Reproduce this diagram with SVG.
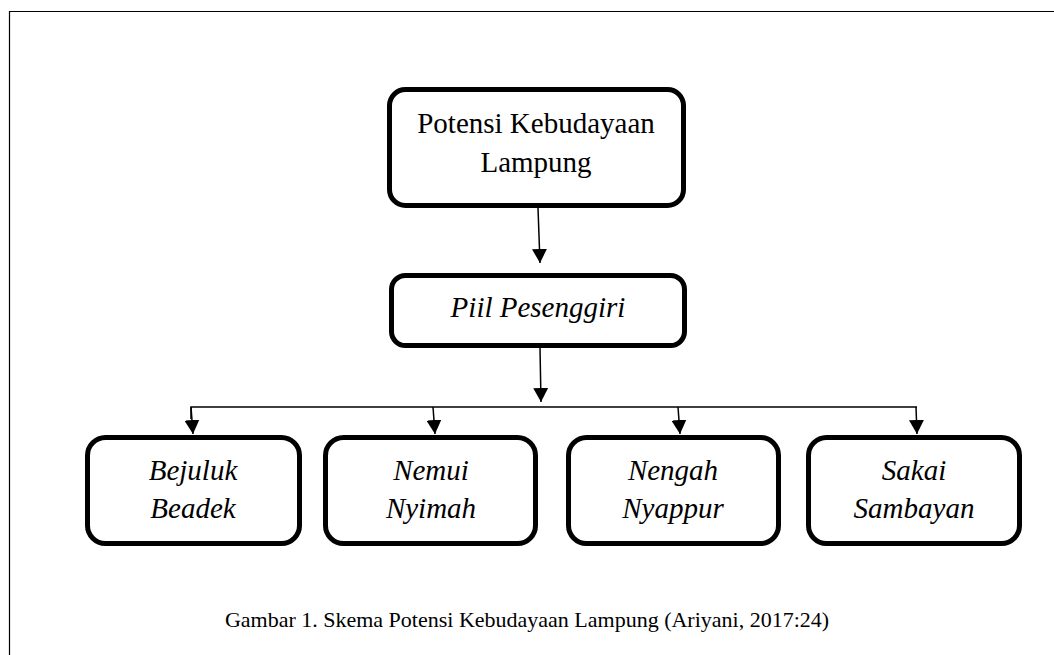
<svg xmlns="http://www.w3.org/2000/svg" width="1054" height="655" viewBox="0 0 1054 655">
  <style>
    .box { fill: #fff; stroke: #000; stroke-width: 5; }
    .lbl { font-family: "Liberation Serif", "Times New Roman", serif; font-size: 29px; fill: #000; text-anchor: middle; }
    .it { font-style: italic; }
    .wire { fill: none; stroke: #000; stroke-width: 1.5; }
    .cap { font-family: "Liberation Serif", "Times New Roman", serif; font-size: 22px; fill: #000; text-anchor: middle; }
  </style>
  <defs>
    <marker id="arrowBig" viewBox="0 0 10 10" refX="10" refY="5" markerWidth="14" markerHeight="15" markerUnits="userSpaceOnUse" orient="auto" preserveAspectRatio="none">
      <path d="M0,0 L10,5 L0,10 Z" fill="#000"/>
    </marker>
  </defs>

  <rect width="1054" height="655" fill="#fff"/>
  <!-- page frame (open on right and bottom) -->
  <path d="M9.5,655 V11.5 H1054" fill="none" stroke="#000" stroke-width="1.2"/>

  <g id="connectors">
    <line class="wire" x1="538" y1="208" x2="540" y2="263" marker-end="url(#arrowBig)"/>
    <line class="wire" x1="540" y1="348" x2="541" y2="402" marker-end="url(#arrowBig)"/>
    <path class="wire" d="M191,419 V407 H917"/>
    <line class="wire" x1="191" y1="407" x2="193" y2="434" marker-end="url(#arrowBig)"/>
    <line class="wire" x1="433" y1="407" x2="435" y2="434" marker-end="url(#arrowBig)"/>
    <line class="wire" x1="678" y1="407" x2="680" y2="434" marker-end="url(#arrowBig)"/>
    <line class="wire" x1="916" y1="407" x2="917" y2="434" marker-end="url(#arrowBig)"/>
  </g>

  <g id="node-potensi">
    <rect class="box" x="389.5" y="89.5" width="294" height="116" rx="16"/>
    <text class="lbl" x="536" y="133">Potensi Kebudayaan</text>
    <text class="lbl" x="536" y="172">Lampung</text>
  </g>

  <g id="node-piil">
    <rect class="box" x="391.5" y="275.5" width="293" height="70" rx="14"/>
    <text class="lbl it" x="538" y="317">Piil Pesenggiri</text>
  </g>

  <g id="node-bejuluk">
    <rect class="box" x="87.5" y="437.5" width="212" height="106" rx="18"/>
    <text class="lbl it" x="193" y="480">Bejuluk</text>
    <text class="lbl it" x="193" y="518">Beadek</text>
  </g>

  <g id="node-nemui">
    <rect class="box" x="325.5" y="437.5" width="210" height="106" rx="18"/>
    <text class="lbl it" x="431" y="480">Nemui</text>
    <text class="lbl it" x="431" y="518">Nyimah</text>
  </g>

  <g id="node-nengah">
    <rect class="box" x="568.5" y="437.5" width="210" height="106" rx="18"/>
    <text class="lbl it" x="673" y="480">Nengah</text>
    <text class="lbl it" x="673" y="518">Nyappur</text>
  </g>

  <g id="node-sakai">
    <rect class="box" x="808.5" y="437.5" width="211" height="106" rx="18"/>
    <text class="lbl it" x="914" y="480">Sakai</text>
    <text class="lbl it" x="914" y="518">Sambayan</text>
  </g>

  <text class="cap" x="527" y="627">Gambar 1. Skema Potensi Kebudayaan Lampung (Ariyani, 2017:24)</text>
</svg>
